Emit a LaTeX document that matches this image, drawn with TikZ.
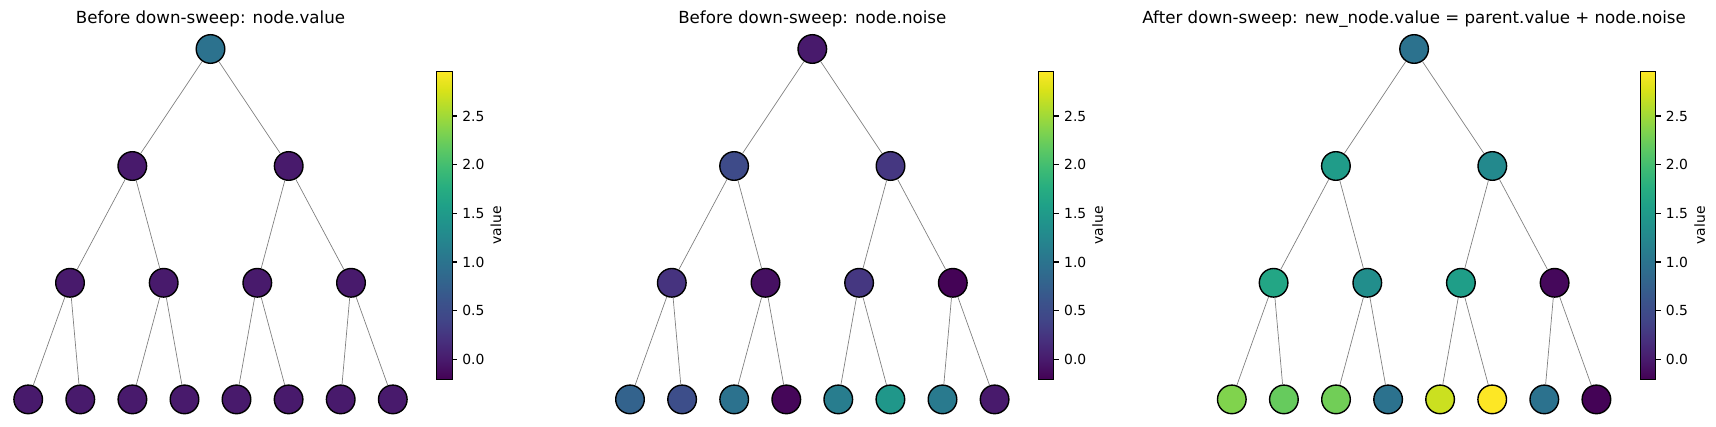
\documentclass[tikz,border=0pt]{standalone}
\usepackage{fontspec}
\setmainfont{DejaVu Sans}

% viridis stops, 16ths
\definecolor{vir00}{HTML}{440154}
\definecolor{vir01}{HTML}{481A6C}
\definecolor{vir02}{HTML}{472F7D}
\definecolor{vir03}{HTML}{414487}
\definecolor{vir04}{HTML}{3B528B}
\definecolor{vir05}{HTML}{33638D}
\definecolor{vir06}{HTML}{2C728E}
\definecolor{vir07}{HTML}{26828E}
\definecolor{vir08}{HTML}{21918C}
\definecolor{vir09}{HTML}{1FA088}
\definecolor{vir10}{HTML}{28AE80}
\definecolor{vir11}{HTML}{3FBC73}
\definecolor{vir12}{HTML}{5EC962}
\definecolor{vir13}{HTML}{84D44B}
\definecolor{vir14}{HTML}{ADDC30}
\definecolor{vir15}{HTML}{D8E219}
\definecolor{vir16}{HTML}{FDE725}

\pgfdeclareverticalshading{viridis}{100bp}{color(0bp)=(vir00); color(25bp)=(vir00);
  color(28.125bp)=(vir01); color(31.25bp)=(vir02); color(34.375bp)=(vir03);
  color(37.5bp)=(vir04); color(40.625bp)=(vir05); color(43.75bp)=(vir06);
  color(46.875bp)=(vir07); color(50bp)=(vir08); color(53.125bp)=(vir09);
  color(56.25bp)=(vir10); color(59.375bp)=(vir11); color(62.5bp)=(vir12);
  color(65.625bp)=(vir13); color(68.75bp)=(vir14); color(71.875bp)=(vir15);
  color(75bp)=(vir16); color(100bp)=(vir16)}

% node places, heap order (root = 1)
\def\heapx{{0,-78.2,78.2,-140.5,-46.8,46.8,140.5,-182.3,-130.2,-78.1,-26,26,78.1,130.2,182.3}}
\def\heapy{{49,166,166,282.8,282.8,282.8,282.8,399.4,399.4,399.4,399.4,399.4,399.4,399.4,399.4}}

\newcommand{\heaptree}[2]{%
  \foreach \fc [count=\i] in {#2} {
    \pgfmathsetmacro{\nx}{\heapx[\i-1]}
    \pgfmathsetmacro{\ny}{\heapy[\i-1]}
    \node[vnode=\fc] (#1\i) at (\nx,\ny) {};
  }
  \foreach \i in {2,...,15} {
    \pgfmathtruncatemacro{\up}{\i/2}
    \draw[treeline] (#1\up) -- (#1\i);
  }
}

\newcommand{\valuebar}[1]{%
  \node[barbox] (#1bar) at (234,225.3) {};
  \foreach \v in {0.0,0.5,1.0,1.5,2.0,2.5} {
    \pgfmathsetmacro{\ty}{359.3-\v*97.3}
    \draw[line width=0.8pt] (241.6,\ty) -- ++(3.5pt,0) node[ticklbl] {\v};
  }
  \node[barlbl] (#1lbl) at (285.5,225.3) {value};
}

\begin{document}
\begin{tikzpicture}[x=0.72pt, y=-0.72pt,
    vnode/.style={circle, draw=black, line width=1pt, fill=#1, minimum size=20.6pt, inner sep=0pt},
    treeline/.style={draw=gray, line width=0.5pt},
    barbox/.style={draw=black, line width=0.8pt, shade, shading=viridis, inner sep=0pt,
      minimum width=15.2*0.72pt, minimum height=308*0.72pt},
    paneltitle/.style={anchor=base, inner sep=0pt, font=\fontsize{12}{14}\selectfont},
    ticklbl/.style={anchor=west, inner sep=0pt, xshift=3.5pt, font=\fontsize{10}{12}\selectfont},
    barlbl/.style={rotate=90, inner sep=0pt, font=\fontsize{10}{12}\selectfont}]
  \useasboundingbox (0,0) rectangle (1716,427);

  % node.value
  \begin{scope}[shift={(210.5,0)}]
    \node[paneltitle] (valtitle) at (0,24) {Before down-sweep: node.value};
    \heaptree{val}{vir06,vir01,vir01,vir01,vir01,vir01,vir01,vir01,vir01,vir01,vir01,vir01,vir01,vir01,vir01}
    \valuebar{val}
  \end{scope}

  % node.noise
  \begin{scope}[shift={(812.3,0)}]
    \node[paneltitle] (noititle) at (0,24) {Before down-sweep: node.noise};
    \heaptree{noi}{vir01,vir04!50!vir03,vir03!40!vir02,vir03!20!vir02,vir01!60!vir00,vir03!40!vir02,vir01!10!vir00,
      vir05,vir04!70!vir03,vir06,vir01!20!vir00,vir07!70!vir06,vir09!40!vir08,vir07!50!vir06,vir01}
    \valuebar{noi}
  \end{scope}

  % after the sweep
  \begin{scope}[shift={(1414.1,0)}]
    \node[paneltitle] (newtitle) at (0,24) {After down-sweep: new\_node.value = parent.value + node.noise};
    \heaptree{new}{vir06,vir09!70!vir08,vir08!50!vir07,vir10!40!vir09,vir08!80!vir07,vir09!90!vir08,vir01!30!vir00,
      vir13!90!vir12,vir13!20!vir12,vir13!50!vir12,vir06,vir15!70!vir14,vir16,vir06,vir01!10!vir00}
    \valuebar{new}
  \end{scope}
\end{tikzpicture}
\end{document}
